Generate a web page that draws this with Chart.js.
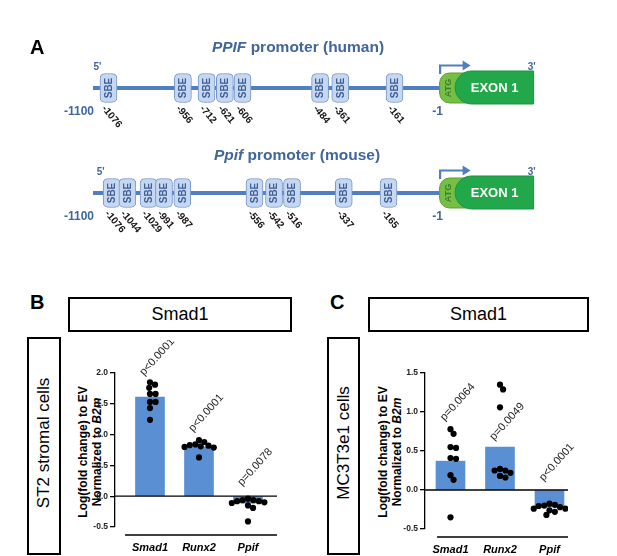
<!DOCTYPE html>
<html><head><meta charset="utf-8">
<script src="https://cdn.jsdelivr.net/npm/chart.js@4.4.1/dist/chart.umd.min.js"></script>
<style>
body{margin:0;background:#fff;}
#wrap{position:relative;width:617px;height:556px;overflow:hidden;font-family:'Liberation Sans',Arial,sans-serif;color:#000;}
.abs{position:absolute;}
.letter{font-weight:bold;font-size:20px;line-height:20px;}
.ptitle{font-weight:bold;font-size:15.5px;color:#41669b;white-space:nowrap;transform:translate(-50%,-50%);}
.hbox{border:2px solid #000;box-sizing:border-box;display:flex;align-items:center;justify-content:center;font-size:18px;}
.vbox{border:2px solid #000;box-sizing:border-box;}
.vtext{transform:translate(-50%,-50%) rotate(-90deg);white-space:nowrap;font-size:17px;}
.ytitle{transform:translate(-50%,-50%) rotate(-90deg);white-space:nowrap;font-size:12px;font-weight:bold;line-height:13.5px;text-align:center;}
canvas{position:absolute;}
</style></head>
<body>
<div id="wrap">
  <canvas id="cA" width="617" height="250" style="left:0;top:0"></canvas>
  <div class="abs letter" style="left:30px;top:37px">A</div>
  <div class="abs ptitle" style="left:298px;top:47px"><i>PPIF</i> promoter (human)</div>
  <div class="abs ptitle" style="left:297px;top:155px"><i>Ppif</i> promoter (mouse)</div>

  <div class="abs letter" style="left:30px;top:292px">B</div>
  <div class="abs hbox" style="left:68px;top:297px;width:224px;height:35px">Smad1</div>
  <div class="abs vbox" style="left:27px;top:337px;width:34px;height:218px"></div>
  <div class="abs vtext" style="left:44px;top:443px">ST2 stromal cells</div>
  <div class="abs ytitle" style="left:90px;top:452px">Log(fold change) to EV<br>Normalized to <i>B2m</i></div>
  <canvas id="cB" width="300" height="216" style="left:0;top:340px"></canvas>

  <div class="abs letter" style="left:330px;top:292px">C</div>
  <div class="abs hbox" style="left:368px;top:297px;width:221px;height:35px">Smad1</div>
  <div class="abs vbox" style="left:327px;top:337px;width:33px;height:218px"></div>
  <div class="abs vtext" style="left:343.5px;top:443px">MC3T3e1 cells</div>
  <div class="abs ytitle" style="left:390px;top:452px">Log(fold change) to EV<br>Normalized to <i>B2m</i></div>
  <canvas id="cC" width="307" height="216" style="left:310px;top:340px"></canvas>
</div>
<script>
// ---------- Panel A data ----------
const promoterStart = -1100;
const promoterEnd = -1;
const humanSiteLabels = ['-1076','-956','-712','-621','-606','-484','-361','-161'];
// schematic (not-to-scale) placement of each SBE along the drawn promoter, in bp units
const humanSchematicPos = [-1051,-815,-740,-682,-626,-380,-316,-144];
const mouseSiteLabels = ['-1076','-1044','-1029','-991','-987','-556','-542','-516','-337','-165'];
const mouseSchematicPos = [-1041,-991,-924,-875,-817,-588,-526,-469,-305,-163];

// ---------- Panels B / C data ----------
const genes = ['Smad1','Runx2','Ppif'];
const st2Means = [1.61, 0.80, -0.11];
const st2Smad1 = [1.85, 1.81, 1.76, 1.66, 1.66, 1.53, 1.53, 1.43, 1.24];
const st2Runx2 = [0.91, 0.88, 0.84, 0.83, 0.82, 0.81, 0.80, 0.79, 0.63];
const st2Ppif  = [-0.04, -0.065, -0.065, -0.08, -0.08, -0.10, -0.11, -0.15, -0.19, -0.41];
const st2PValues = ['p<0.0001','p<0.0001','p=0.0078'];
const st2PLabelAt = [1.95, 1.04, 0.16];
const st2YTicks = [-0.5, 0, 0.5, 1.0, 1.5, 2.0];

const mc3Means = [0.37, 0.55, -0.22];
const mc3Smad1 = [0.78, 0.72, 0.55, 0.54, 0.41, 0.40, 0.19, 0.13, -0.35];
const mc3Runx2 = [1.35, 1.29, 1.06, 0.27, 0.25, 0.25, 0.22, 0.18, 0.16];
const mc3Ppif  = [-0.175, -0.19, -0.20, -0.205, -0.22, -0.24, -0.24, -0.26, -0.28, -0.32];
const mc3PValues = ['p=0.0064','p=0.0049','p<0.0001'];
const mc3PLabelAt = [0.88, 0.63, 0.11];
const mc3YTicks = [-0.5, 0, 0.5, 1.0, 1.5];

const FONT = '"Liberation Sans", Arial, sans-serif';
const LINE_BLUE = '#4f7fc0';
const TEXT_BLUE = '#41669b';

// ---------- Panel A ----------
function exonPath(ctx, x1, yc) {
  ctx.beginPath();
  ctx.moveTo(x1 + 94, yc - 17);
  ctx.lineTo(x1 + 32, yc - 17);
  ctx.arc(x1 + 32, yc - 0.5, 16.5, -Math.PI / 2, Math.PI / 2, true);
  ctx.lineTo(x1 + 94, yc + 16);
  ctx.closePath();
}
const promoterPlugin = {
  id: 'promoter',
  afterDatasetsDraw(chart) {
    const {ctx, scales: {x, y}} = chart;
    const meta = chart.getDatasetMeta(2);
    const labels = humanSiteLabels.concat(mouseSiteLabels);
    const centers = meta.data.map(el => el.getCenterPoint());
    ctx.save();
    centers.forEach((c, i) => {
      ctx.save();
      ctx.translate(c.x, c.y);
      ctx.rotate(-Math.PI / 2);
      ctx.fillStyle = '#3f5f95';
      ctx.font = 'bold 10px ' + FONT;
      ctx.textAlign = 'center'; ctx.textBaseline = 'middle';
      ctx.fillText('SBE', 0, 0.5);
      ctx.restore();
      ctx.save();
      ctx.translate(c.x - 5, c.y + 19);
      ctx.rotate(50 * Math.PI / 180);
      ctx.fillStyle = '#111';
      ctx.font = 'bold 10px ' + FONT;
      ctx.textAlign = 'left'; ctx.textBaseline = 'middle';
      ctx.fillText(labels[i], 0, 0);
      ctx.restore();
    });
    [1, 0].forEach((row, r) => {
      const yc = y.getPixelForValue(row);
      const x0 = x.getPixelForValue(promoterStart);
      const x1 = x.getPixelForValue(promoterEnd);
      const firstBox = centers[r === 0 ? 0 : humanSiteLabels.length];
      ctx.fillStyle = TEXT_BLUE;
      ctx.font = 'bold 12px ' + FONT;
      ctx.textBaseline = 'middle';
      ctx.textAlign = 'right';
      ctx.fillText(String(promoterStart), x0 + 1, yc + 23.5);
      ctx.textAlign = 'center';
      ctx.fillText(String(promoterEnd), x1 - 2, yc + 23.5);
      ctx.font = 'bold 10px ' + FONT;
      ctx.fillText("5'", firstBox.x - 11, yc - 21);
      ctx.fillText("3'", x1 + 92, yc - 21);
      // ATG
      ctx.beginPath();
      ctx.roundRect(x1, yc - 15, 26, 30, [10, 0, 0, 10]);
      ctx.fillStyle = '#74bf44';
      ctx.fill();
      ctx.strokeStyle = '#5c9e36'; ctx.lineWidth = 1; ctx.stroke();
      // exon
      exonPath(ctx, x1, yc);
      ctx.fillStyle = '#22a84a';
      ctx.fill();
      ctx.strokeStyle = '#1c9442'; ctx.stroke();
      ctx.save();
      ctx.translate(x1 + 8.5, yc);
      ctx.rotate(-Math.PI / 2);
      ctx.fillStyle = '#3f7f2c';
      ctx.font = 'bold 9px ' + FONT;
      ctx.textAlign = 'center'; ctx.textBaseline = 'middle';
      ctx.fillText('ATG', 0, 0);
      ctx.restore();
      ctx.fillStyle = '#fff';
      ctx.font = 'bold 13px ' + FONT;
      ctx.textAlign = 'center'; ctx.textBaseline = 'middle';
      ctx.fillText('EXON 1', x1 + 55, yc + 0.5);
      // transcription arrow
      const ya = yc - 22.5;
      ctx.strokeStyle = LINE_BLUE; ctx.lineWidth = 2.2;
      ctx.beginPath();
      ctx.moveTo(x1 + 0.5, yc - 14);
      ctx.lineTo(x1 + 0.5, ya);
      ctx.lineTo(x1 + 24, ya);
      ctx.stroke();
      ctx.fillStyle = LINE_BLUE;
      ctx.beginPath();
      ctx.moveTo(x1 + 31, ya);
      ctx.lineTo(x1 + 23, ya - 5);
      ctx.lineTo(x1 + 23, ya + 5);
      ctx.closePath();
      ctx.fill();
    });
    ctx.restore();
  }
};

const boxHalf = 27; // half width of an SBE box in schematic bp units
new Chart(document.getElementById('cA'), {
  type: 'bar',
  data: {
    datasets: [
      { type: 'line', order: 3, data: [{x: promoterStart, y: 1}, {x: promoterEnd, y: 1}],
        borderColor: LINE_BLUE, borderWidth: 4, pointRadius: 0 },
      { type: 'line', order: 3, data: [{x: promoterStart, y: 0}, {x: promoterEnd, y: 0}],
        borderColor: LINE_BLUE, borderWidth: 4, pointRadius: 0 },
      { type: 'bar', order: 1, indexAxis: 'y', grouped: false, barThickness: 29,
        borderRadius: 5, borderSkipped: false, backgroundColor: '#c6d7f1', borderColor: '#7494c7', borderWidth: 1,
        data: humanSchematicPos.map(p => ({x: [p - boxHalf, p + boxHalf], y: 1}))
          .concat(mouseSchematicPos.map(p => ({x: [p - boxHalf, p + boxHalf], y: 0}))) }
    ]
  },
  options: {
    responsive: false, animation: false, events: [],
    layout: {padding: 0},
    plugins: {legend: {display: false}, tooltip: {enabled: false}},
    scales: {
      x: {type: 'linear', display: false, min: -1395, max: 561.5, offset: false},
      y: {type: 'linear', display: false, min: -0.543, max: 1.838, offset: false}
    }
  },
  plugins: [promoterPlugin]
});

// ---------- Panels B / C ----------
function beeswarm(vals, pxPerX, pxPerY, d) {
  const order = vals.map((v, i) => i).sort((a, b) => vals[b] - vals[a]);
  const placed = [];
  const off = new Array(vals.length).fill(0);
  order.forEach(i => {
    const yy = vals[i] * pxPerY;
    const cands = [0];
    placed.forEach(p => {
      const dy = Math.abs(p.y - yy);
      if (dy < d) { const dx = Math.sqrt(d * d - dy * dy); cands.push(p.x + dx, p.x - dx); }
    });
    cands.sort((a, b) => Math.abs(a) - Math.abs(b));
    let xx = 0;
    for (const c of cands) {
      if (placed.every(p => Math.hypot(p.x - c, p.y - yy) >= d - 1e-6)) { xx = c; break; }
    }
    placed.push({x: xx, y: yy});
    off[i] = xx / pxPerX;
  });
  return off;
}

function buildPanel(id, d, L) {
  const yMin = d.yTicks[0], yMax = d.yTicks[d.yTicks.length - 1];
  const pxPerX = (L.right - L.left) / (L.xMax - L.xMin);
  const pxPerY = (L.bottom - L.top) / (yMax - yMin);
  const dots = [];
  d.groups.forEach((vals, i) => {
    const off = beeswarm(vals, pxPerX, pxPerY, 5.6);
    vals.forEach((v, j) => dots.push({x: i + off[j], y: v}));
  });
  const cv = document.getElementById(id);
  const xH = cv.height - L.bottom;
  const plugin = {
    id: 'prism' + id,
    beforeDatasetDraw(chart, args) {
      if (args.index !== 1) return;
      const {ctx, scales: {x, y}, chartArea: a} = chart;
      ctx.save();
      ctx.strokeStyle = '#000'; ctx.lineWidth = 1.3;
      const y0 = y.getPixelForValue(0);
      ctx.beginPath(); ctx.moveTo(a.left, y0); ctx.lineTo(a.right, y0); ctx.stroke();
      const yb = a.bottom + 8;
      ctx.beginPath(); ctx.moveTo(x.getPixelForValue(L.baseFrom), yb); ctx.lineTo(a.right, yb); ctx.stroke();
      ctx.restore();
    },
    afterDatasetsDraw(chart) {
      const {ctx, scales: {x, y}} = chart;
      ctx.save();
      ctx.fillStyle = '#222';
      ctx.font = '11px ' + FONT;
      d.pvals.forEach((t, i) => {
        ctx.save();
        ctx.translate(x.getPixelForValue(i) - 6, y.getPixelForValue(d.pAt[i]));
        ctx.rotate(-48 * Math.PI / 180);
        ctx.textAlign = 'left'; ctx.textBaseline = 'alphabetic';
        ctx.fillText(t, 0, 0);
        ctx.restore();
      });
      ctx.restore();
    }
  };
  return new Chart(cv, {
    type: 'bar',
    data: {
      datasets: [
        { type: 'bar', order: 2, data: d.means.map((m, i) => ({x: i, y: m})),
          backgroundColor: '#5b8fd4', borderWidth: 0, barThickness: 29 },
        { type: 'scatter', order: 1, data: dots, pointRadius: 3.1, pointBackgroundColor: '#000',
          pointBorderWidth: 0, showLine: false }
      ]
    },
    options: {
      responsive: false, animation: false, events: [],
      layout: {padding: {left: 0, top: L.top, right: cv.width - L.right, bottom: 0}},
      plugins: {legend: {display: false}, tooltip: {enabled: false}},
      scales: {
        x: {
          type: 'linear', min: L.xMin, max: L.xMax, offset: false,
          grid: {display: false, drawTicks: false, tickLength: 0}, border: {display: false},
          afterBuildTicks: s => { s.ticks = d.cats.map((c, i) => ({value: i})); },
          afterFit: s => { s.height = xH; },
          ticks: {
            padding: 14, autoSkip: false, maxRotation: 0, color: '#000',
            font: {family: FONT, size: 11, weight: 'bold', style: 'italic'},
            callback: v => d.cats[v]
          }
        },
        y: {
          type: 'linear', min: yMin, max: yMax,
          afterBuildTicks: s => { s.ticks = d.yTicks.map(v => ({value: v})); },
          afterFit: s => { s.width = L.left; },
          grid: {drawOnChartArea: false, drawTicks: true, tickLength: 5, color: '#000', lineWidth: 1.3},
          border: {display: true, color: '#000', width: 1.3},
          ticks: {padding: 2, color: '#222', font: {family: FONT, size: 8.5, weight: 'bold'},
            callback: v => v.toFixed(1)}
        }
      }
    },
    plugins: [plugin]
  });
}

buildPanel('cB',
  {cats: genes, means: st2Means, groups: [st2Smad1, st2Runx2, st2Ppif],
   pvals: st2PValues, pAt: st2PLabelAt, yTicks: st2YTicks},
  {left: 115, right: 277, top: 33, bottom: 187, xMin: -0.714, xMax: 2.592, baseFrom: -0.51});

buildPanel('cC',
  {cats: genes, means: mc3Means, groups: [mc3Smad1, mc3Runx2, mc3Ppif],
   pvals: mc3PValues, pAt: mc3PLabelAt, yTicks: mc3YTicks},
  {left: 115, right: 258, top: 33, bottom: 189, xMin: -0.515, xMax: 2.374, baseFrom: -0.273});
</script>
</body></html>
